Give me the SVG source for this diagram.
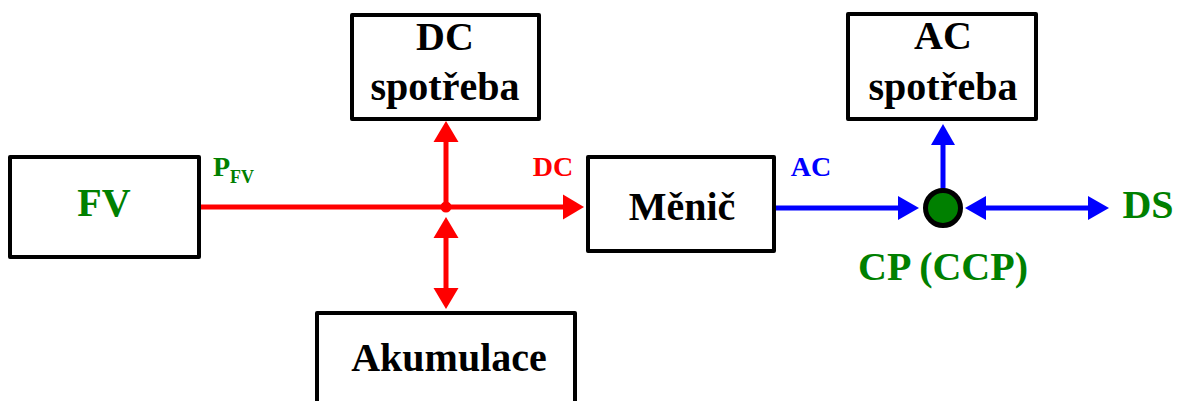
<svg xmlns="http://www.w3.org/2000/svg" width="1184" height="401" viewBox="0 0 1184 401">
  <style>
    .box { fill: #fff; stroke: #000; stroke-width: 4; stroke-linejoin: round; }
    .lbl { font-family: "Liberation Serif", "Times New Roman", serif; font-weight: bold; text-anchor: middle; }
    .big { font-size: 40px; }
    .small { font-size: 28px; }
    .blk { fill: #000; }
    .grn { fill: #008000; }
    .red { fill: #ff0000; }
    .blu { fill: #0000ff; }
    .wr { stroke: #ff0000; stroke-width: 5; fill: none; }
    .wb { stroke: #0000ff; stroke-width: 5; fill: none; }
  </style>
  <defs>
    <marker id="headRed" markerUnits="userSpaceOnUse" markerWidth="22" markerHeight="26" refX="0" refY="13" orient="auto-start-reverse" overflow="visible">
      <path d="M0,0.5 L21,13 L0,25.5 Z" fill="#ff0000"/>
    </marker>
    <marker id="headBlue" markerUnits="userSpaceOnUse" markerWidth="22" markerHeight="26" refX="0" refY="13" orient="auto-start-reverse" overflow="visible">
      <path d="M0,1 L21,13 L0,25 Z" fill="#0000ff"/>
    </marker>
  </defs>

  <g id="connectors">
    <!-- DC bus -->
    <path class="wr" d="M199,207 H563" marker-end="url(#headRed)"/>
    <path class="wr" d="M446,207 V142" marker-end="url(#headRed)"/>
    <path class="wr" d="M446,238 V288" marker-start="url(#headRed)" marker-end="url(#headRed)"/>
    <circle cx="446" cy="207" r="5.5" fill="#ff0000"/>
    <!-- AC side -->
    <path class="wb" d="M775,208 H898" marker-end="url(#headBlue)"/>
    <path class="wb" d="M943,190 V145" marker-end="url(#headBlue)"/>
    <path class="wb" d="M986,208 H1088" marker-start="url(#headBlue)" marker-end="url(#headBlue)"/>
  </g>

  <g id="node-fv">
    <rect class="box" x="10" y="157" width="189" height="100"/>
    <text class="lbl big grn" x="104" y="216">FV</text>
  </g>

  <g id="label-pfv">
    <text class="lbl grn" x="213" y="176" text-anchor="start" style="text-anchor:start"><tspan font-size="28">P</tspan><tspan font-size="18" dy="7">FV</tspan></text>
  </g>

  <g id="node-dc-spotreba">
    <rect class="box" x="352" y="15" width="187" height="104"/>
    <text class="lbl big blk" x="445" y="50">DC</text>
    <text class="lbl big blk" x="445" y="100">spotřeba</text>
  </g>

  <g id="node-akumulace">
    <rect class="box" x="317" y="313" width="258" height="100"/>
    <text class="lbl big blk" x="449" y="371">Akumulace</text>
  </g>

  <g id="label-dc">
    <text class="lbl small red" x="553" y="176">DC</text>
  </g>

  <g id="node-menic">
    <rect class="box" x="588" y="157" width="186" height="94"/>
    <text class="lbl big blk" x="682" y="220">Měnič</text>
  </g>

  <g id="label-ac">
    <text class="lbl small blu" x="811" y="176">AC</text>
  </g>

  <g id="node-ac-spotreba">
    <rect class="box" x="848" y="14" width="188" height="105"/>
    <text class="lbl big blk" x="943" y="49">AC</text>
    <text class="lbl big blk" x="943" y="100">spotřeba</text>
  </g>

  <g id="node-cp">
    <circle cx="943" cy="208" r="17.5" fill="#008000" stroke="#000" stroke-width="5"/>
    <text class="lbl big grn" x="943" y="280">CP (CCP)</text>
  </g>

  <g id="node-ds">
    <text class="lbl big grn" x="1148" y="218">DS</text>
  </g>
</svg>
